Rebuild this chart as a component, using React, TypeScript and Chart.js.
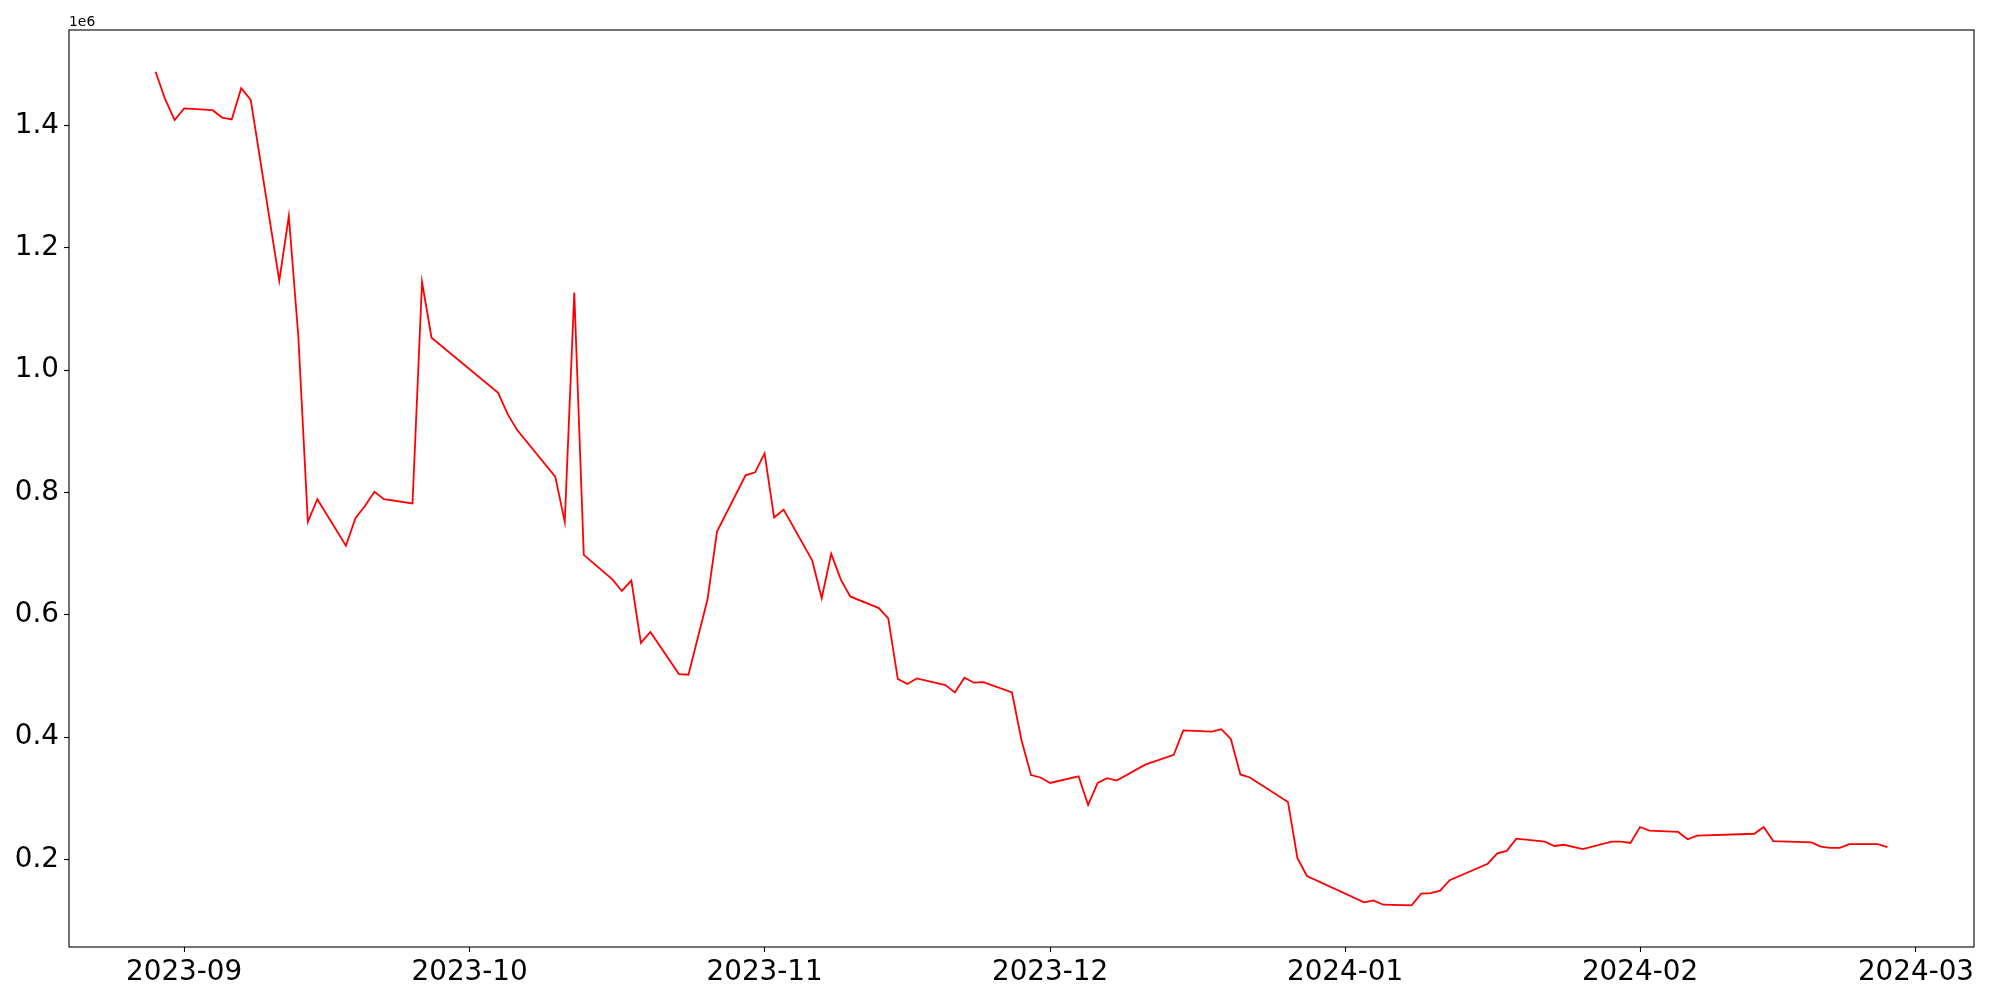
import React, { useEffect, useRef } from "react";
import { Chart, registerables } from "chart.js";

Chart.register(...registerables);

const dates: string[] = [
  "2023-08-29", "2023-08-30", "2023-08-31", "2023-09-01", "2023-09-04", "2023-09-05", "2023-09-06", "2023-09-07", "2023-09-08",
  "2023-09-11", "2023-09-12", "2023-09-13", "2023-09-14", "2023-09-15", "2023-09-18", "2023-09-19", "2023-09-20", "2023-09-21",
  "2023-09-22", "2023-09-25", "2023-09-26", "2023-09-27", "2023-10-04", "2023-10-05", "2023-10-06", "2023-10-10", "2023-10-11",
  "2023-10-12", "2023-10-13", "2023-10-16", "2023-10-17", "2023-10-18", "2023-10-19", "2023-10-20", "2023-10-23", "2023-10-24",
  "2023-10-26", "2023-10-27", "2023-10-30", "2023-10-31", "2023-11-01", "2023-11-02", "2023-11-03", "2023-11-06", "2023-11-07",
  "2023-11-08", "2023-11-09", "2023-11-10", "2023-11-13", "2023-11-14", "2023-11-15", "2023-11-16", "2023-11-17", "2023-11-20",
  "2023-11-21", "2023-11-22", "2023-11-23", "2023-11-24", "2023-11-27", "2023-11-28", "2023-11-29", "2023-11-30", "2023-12-01",
  "2023-12-04", "2023-12-05", "2023-12-06", "2023-12-07", "2023-12-08", "2023-12-11", "2023-12-14", "2023-12-15", "2023-12-18",
  "2023-12-19", "2023-12-20", "2023-12-21", "2023-12-22", "2023-12-26", "2023-12-27", "2023-12-28", "2024-01-03", "2024-01-04",
  "2024-01-05", "2024-01-08", "2024-01-09", "2024-01-10", "2024-01-11", "2024-01-12", "2024-01-16", "2024-01-17", "2024-01-18",
  "2024-01-19", "2024-01-22", "2024-01-23", "2024-01-24", "2024-01-26", "2024-01-29", "2024-01-30", "2024-01-31", "2024-02-01",
  "2024-02-02", "2024-02-05", "2024-02-06", "2024-02-07", "2024-02-13", "2024-02-14", "2024-02-15", "2024-02-19", "2024-02-20",
  "2024-02-21", "2024-02-22", "2024-02-23", "2024-02-26", "2024-02-27",
];

const values: number[] = [
  1488000, 1443000, 1409000, 1428000, 1425000, 1413000, 1410000, 1461000, 1442000,
  1146000, 1252000, 1055000, 752000, 789000, 713000, 758000, 778000, 801000,
  789000, 782000, 1144000, 1053000, 963000, 928000, 902000, 826000, 752000,
  1127000, 698000, 658000, 639000, 656000, 554000, 572000, 503000, 502000,
  625000, 736000, 828000, 833000, 864000, 759000, 772000, 689000, 627000,
  700000, 658000, 630000, 611000, 594000, 495000, 487000, 496000, 485000,
  473000, 497000, 489000, 490000, 473000, 395000, 338000, 334000, 325000,
  336000, 289000, 325000, 333000, 329000, 355000, 371000, 411000, 409000,
  413000, 397000, 339000, 334000, 294000, 202000, 173000, 130000, 133000,
  126000, 125000, 144000, 145000, 149000, 166000, 193000, 210000, 214000,
  234000, 229000, 222000, 224000, 217000, 229000, 229000, 227000, 253000,
  247000, 245000, 233000, 239000, 242000, 253000, 230000, 228000, 221000,
  219000, 219000, 225000, 225000, 220000,
];

const xTickLabels: string[] = ["2023-09", "2023-10", "2023-11", "2023-12", "2024-01", "2024-02", "2024-03"];
const yTicks: number[] = [200000, 400000, 600000, 800000, 1000000, 1200000, 1400000];
const offsetLabel = "1e6";

const toMs = (s: string) => {
  const [y, m, d] = s.split("-").map(Number);
  return Date.UTC(y, m - 1, d || 1);
};

export default function App() {
  const ref = useRef<HTMLCanvasElement | null>(null);

  useEffect(() => {
    if (!ref.current) return;
    const xs = dates.map(toMs);
    const pts = xs.map((x, i) => ({ x, y: values[i] }));
    const xMin = Math.min(...xs);
    const xMax = Math.max(...xs);
    const xSpan = xMax - xMin;
    const yMin = Math.min(...values);
    const yMax = Math.max(...values);
    const ySpan = yMax - yMin;
    const font = { family: "'DejaVu Sans', sans-serif", size: 27.8 };

    const framePlugin = {
      id: "frame",
      afterDraw(chart: any) {
        const { ctx, chartArea } = chart;
        ctx.save();
        ctx.strokeStyle = "#000";
        ctx.lineWidth = 1.1;
        ctx.strokeRect(chartArea.left, chartArea.top, chartArea.right - chartArea.left, chartArea.bottom - chartArea.top);
        ctx.fillStyle = "#000";
        ctx.font = "13.9px 'DejaVu Sans', sans-serif";
        ctx.textAlign = "left";
        ctx.textBaseline = "alphabetic";
        ctx.fillText(offsetLabel, chartArea.left, chartArea.top - 4);
        ctx.restore();
      },
    };

    const chart = new Chart(ref.current, {
      type: "line",
      data: {
        datasets: [
          {
            data: pts,
            borderColor: "#ff0000",
            borderWidth: 1.8,
            pointRadius: 0,
            fill: false,
            tension: 0,
          },
        ],
      },
      options: {
        animation: false,
        responsive: false,
        parsing: false as any,
        layout: { padding: { top: 30, right: 26, left: 0, bottom: 0 } },
        plugins: { legend: { display: false }, tooltip: { enabled: false }, title: { display: false } },
        scales: {
          x: {
            type: "linear",
            min: xMin - 0.05 * xSpan,
            max: xMax + 0.05 * xSpan,
            afterBuildTicks: (scale: any) => {
              scale.ticks = xTickLabels.map((l) => ({ value: toMs(l + "-01") }));
            },
            afterFit: (scale: any) => {
              scale.height = 53;
            },
            ticks: {
              autoSkip: false,
              maxRotation: 0,
              color: "#000",
              font,
              padding: 4,
              callback: (v: any) => {
                const d = new Date(Number(v));
                const lbl = `${d.getUTCFullYear()}-${String(d.getUTCMonth() + 1).padStart(2, "0")}`;
                return xTickLabels.includes(lbl) ? lbl : "";
              },
            },
            grid: { display: true, drawOnChartArea: false, drawTicks: true, tickLength: 5, tickColor: "#000", tickWidth: 1.1 },
            border: { display: false },
          },
          y: {
            type: "linear",
            min: yMin - 0.05 * ySpan,
            max: yMax + 0.05 * ySpan,
            afterBuildTicks: (scale: any) => {
              scale.ticks = yTicks.map((v) => ({ value: v }));
            },
            afterFit: (scale: any) => {
              scale.width = 69;
            },
            ticks: {
              color: "#000",
              font,
              padding: 5,
              callback: (v: any) => (Number(v) / 1e6).toFixed(1),
            },
            grid: { display: true, drawOnChartArea: false, drawTicks: true, tickLength: 5, tickColor: "#000", tickWidth: 1.1 },
            border: { display: false },
          },
        },
      },
      plugins: [framePlugin],
    });
    return () => chart.destroy();
  }, []);

  return (
    <div style={{ position: "fixed", left: 0, top: 0, width: 2000, height: 1000, background: "#fff" }}>
      <canvas ref={ref} width={2000} height={1000} style={{ display: "block", width: 2000, height: 1000 }} />
    </div>
  );
}
